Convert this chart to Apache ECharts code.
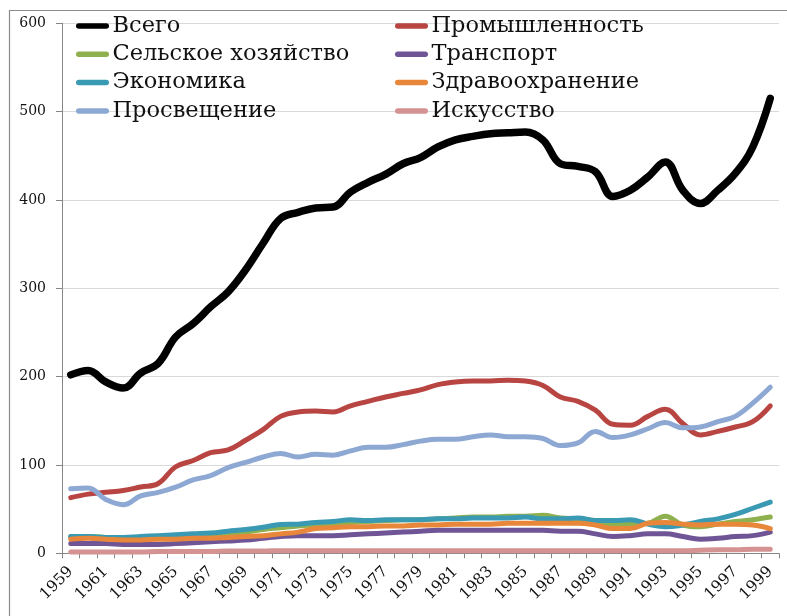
<!DOCTYPE html>
<html><head><meta charset="utf-8">
<script src="https://cdn.jsdelivr.net/npm/echarts@6/dist/echarts.min.js"></script>
<style>html,body{margin:0;padding:0;background:#fff}#c{width:787px;height:616px}</style>
</head><body><div id="c"></div>
<script>
const years = [];
for (let y = 1959; y <= 1999; y++) years.push(String(y));
const yTicks = [0, 100, 200, 300, 400, 500, 600];

const total = [202,207,194,187,204,215,245,260,279,296,321,351,379,386,391,392,409,420,429,441,448,460,468,472,475,476,477,468,441,438,432,404,411,426,443,411,396,411,430,460,515];
const industry = [63,67,69,71,75,79,98,105,114,117,128,140,155,160,161,160,167,172,177,181,185,191,194,195,195,196,195,190,177,172,162,146,145,155,163,147,134,138,143,149,167];
const agriculture = [19,19,18,17,17,18,19,20,21,22,24,27,29,31,32,33,35,36,37,38,38,39,40,41,41,42,42,43,40,39,37,33,33,34,42,32,30,33,36,38,41];
const transport = [11,11,11,10,10,10,11,12,13,14,15,17,19,20,20,20,21,22,23,24,25,26,26,26,26,26,26,26,25,25,22,19,20,22,22,19,16,17,19,20,24];
const economy = [19,19,18,18,19,20,21,22,23,25,27,29.5,32.5,33,35,36,38,37,38,38,38,39,39,40,40,40,41,39,39,40,37,37,38,33,30,32,36,39,44,51,58];
const health = [16,17,16,15,15,16,16,17,17,18,19,20,22,24,28,29,30,30,31,31,32,32,33,33,33,34,34,34,34,34,32,28,28,34,35,33,32,33,33,32,28];
const education = [73,74,61,55,65,69,75,83,88,97,103,109,113,109,112,111,116,120,120,123,127,129,129,132,134,132,132,130,122,125,138,131,134,141,148,142,143,149,155,170,188];
const arts = [1.5,1.5,1.5,1.5,1.5,2,2,2,2,2.5,2.5,2.5,3,3,3,3,3,3,3,3,3,3,3,3,3,3,3,3,3,3,3,3,3,3,3,3,3.5,4,4,4.5,4.5];

const names = ['Всего','Промышленность','Сельское хозяйство','Транспорт','Экономика','Здравоохранение','Просвещение','Искусство'];
const datasets = [total, industry, agriculture, transport, economy, health, education, arts];
const colors = ['#000000','#B84542','#8FB04E','#6F5595','#3B9AB3','#E8873A','#8EA8D4','#D49392'];
const widths = [7.5,5,5,5,5,5,5,5];

const FONT = 'DejaVu Serif';
const series = names.map((n, i) => ({
  name: n, type: 'line', data: datasets[i], smooth: 0.4, symbol: 'none',
  lineStyle: { color: colors[i], width: widths[i], cap: 'round', join: 'round' },
  itemStyle: { color: colors[i] }
}));

const pill = 'path://M3,0 H33 A3,3 0 0 1 33,6 H3 A3,3 0 0 1 3,0 Z';
function legendItem(i) {
  return { name: names[i], icon: pill, itemStyle: { color: colors[i] } };
}
const legendCommon = {
  orient: 'vertical', top: 9, itemWidth: 36, itemHeight: 5.5, itemGap: 4.3,
  textStyle: { fontFamily: FONT, fontSize: 22.5, lineHeight: 24, color: '#111', padding: [0, 0, 0, -3] }
};

const chart = echarts.init(document.getElementById('c'), null, { renderer: 'canvas' });
chart.setOption({
  backgroundColor: '#fff',
  animation: false,
  color: colors,
  graphic: [{ type: 'rect', left: 7, top: 8, shape: { width: 800, height: 700 }, style: { fill: 'none', stroke: '#8c8c8c', lineWidth: 1.2 }, silent: true, z: -1 }],
  legend: [
    Object.assign({}, legendCommon, { left: 71, data: [0, 2, 4, 6].map(legendItem) }),
    Object.assign({}, legendCommon, { left: 390, data: [1, 3, 5, 7].map(legendItem) })
  ],
  grid: { left: 62, right: 8, top: 23.3, bottom: 62.7, containLabel: false },
  xAxis: {
    type: 'category', data: years, boundaryGap: true,
    axisLine: { lineStyle: { color: '#868686', width: 1 } },
    axisTick: { show: true, length: 5, interval: 0, lineStyle: { color: '#868686' } },
    axisLabel: { interval: 1, rotate: 45, margin: 16, fontFamily: FONT, fontSize: 15.5, color: '#111' }
  },
  yAxis: {
    type: 'value', min: yTicks[0], max: yTicks[yTicks.length - 1], interval: 100,
    axisLine: { show: true, lineStyle: { color: '#868686', width: 1 } },
    axisTick: { show: true, length: 6, lineStyle: { color: '#868686' } },
    axisLabel: { margin: 16, fontFamily: FONT, fontSize: 14, color: '#111' },
    splitLine: { show: true, lineStyle: { color: '#D9D9D9', width: 1 } }
  },
  series: series
});
</script>
</body></html>
